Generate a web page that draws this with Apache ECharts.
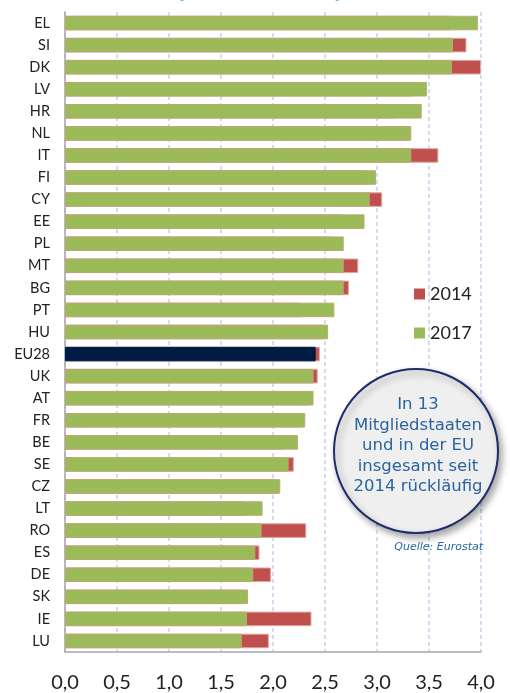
<!DOCTYPE html>
<html>
<head>
<meta charset="utf-8">
<script src="https://cdn.jsdelivr.net/npm/echarts@6/dist/echarts.min.js"></script>
<style>
html,body{margin:0;padding:0;background:#fff;}
#chart{width:510px;height:693px;}
</style>
</head>
<body>
<div id="chart"></div>
<script>
const categories = ['EL','SI','DK','LV','HR','NL','IT','FI','CY','EE','PL','MT','BG','PT','HU','EU28','UK','AT','FR','BE','SE','CZ','LT','RO','ES','DE','SK','IE','LU'];
const values2017 = [3.97,3.73,3.72,3.48,3.43,3.33,3.33,2.99,2.93,2.88,2.68,2.68,2.68,2.59,2.53,2.41,2.39,2.39,2.31,2.24,2.15,2.07,1.90,1.89,1.83,1.81,1.76,1.75,1.70];
const values2014 = [3.71,3.86,4.00,3.35,3.18,3.31,3.59,2.90,3.05,2.66,2.56,2.82,2.73,2.26,2.49,2.45,2.43,2.35,2.28,2.09,2.20,2.03,1.72,2.32,1.87,1.98,1.70,2.37,1.96];
const seriesNames = ['2014','2017'];
const highlightCategory = 'EU28';
const circleLines = ['In 13','Mitgliedstaaten','und in der EU','insgesamt seit','2014 rückläufig'];
const sourceText = 'Quelle: Eurostat';

const GREEN = '#9bbb59', RED = '#c0504d', NAVY = '#001c44';
const chart = echarts.init(document.getElementById('chart'), null, {renderer:'canvas'});

const data2017 = values2017.map((v,i) => categories[i] === highlightCategory
  ? {value: v, itemStyle: {color: NAVY, borderColor: NAVY}}
  : v);

chart.setOption({
  animation: false,
  backgroundColor: '#fff',
  grid: {left: 65, right: 29, top: 12, bottom: 41, containLabel: false},
  legend: {
    orient: 'vertical', left: 409, top: 280,
    itemWidth: 11, itemHeight: 11, itemGap: 21,
    icon: 'rect',
    itemStyle: {borderWidth: 0},
    data: seriesNames,
    textStyle: {fontFamily: 'Lato', fontSize: 18, color: '#222', padding: [0,0,0,0]}
  },
  xAxis: {
    type: 'value', min: 0, max: 4, interval: 0.5,
    axisLine: {show: true, lineStyle: {color: '#a6a6a6', width: 1.5}},
    axisTick: {show: false},
    axisLabel: {
      margin: 21, fontFamily: 'Lato', fontSize: 20, color: '#222',
      formatter: v => v.toFixed(1).replace('.', ',')
    },
    splitLine: {show: true, lineStyle: {color: '#c3d2ec', type: [4,3], width: 1.5}}
  },
  yAxis: {
    type: 'category', data: categories, inverse: true,
    axisLine: {show: true, lineStyle: {color: '#a6a6a6', width: 1.5}},
    axisTick: {show: false},
    axisLabel: {margin: 15, fontFamily: 'Lato', fontSize: 14.5, color: '#222'}
  },
  series: [
    {
      name: seriesNames[0], type: 'bar', data: values2014,
      barWidth: '66%', barGap: '-100%',
      itemStyle: {color: RED, borderColor: '#e0a5a3', borderWidth: 1}
    },
    {
      name: seriesNames[1], type: 'bar', data: data2017,
      barWidth: '66%', barGap: '-100%',
      itemStyle: {color: GREEN, borderColor: '#bda874', borderWidth: 1}
    }
  ],
  graphic: [
    {type: 'text', left: 176, top: -17, style: {text: '(', font: 'bold 20px "DejaVu Sans"', fill: '#1f5c99'}},
    {type: 'text', left: 334, top: -17, style: {text: ')', font: 'bold 20px "DejaVu Sans"', fill: '#1f5c99'}},
    {
      type: 'circle', shape: {cx: 416, cy: 451, r: 82},
      style: {fill: '#efefef', stroke: '#1f2d6b', lineWidth: 2,
              shadowBlur: 7, shadowOffsetX: 3, shadowOffsetY: 4, shadowColor: 'rgba(0,0,0,0.35)'},
      z: 100
    },
    {
      type: 'text', x: 418, y: 446,
      style: {text: circleLines.join('\n'), font: '16.5px "DejaVu Sans"', fill: '#2a64a0',
              align: 'center', verticalAlign: 'middle', lineHeight: 20.5},
      z: 101
    },
    {
      type: 'text', x: 483, y: 547,
      style: {text: sourceText, font: 'italic 11px "DejaVu Sans"', fill: '#2a64a0',
              align: 'right', verticalAlign: 'middle'},
      z: 101
    }
  ]
});
</script>
</body>
</html>
